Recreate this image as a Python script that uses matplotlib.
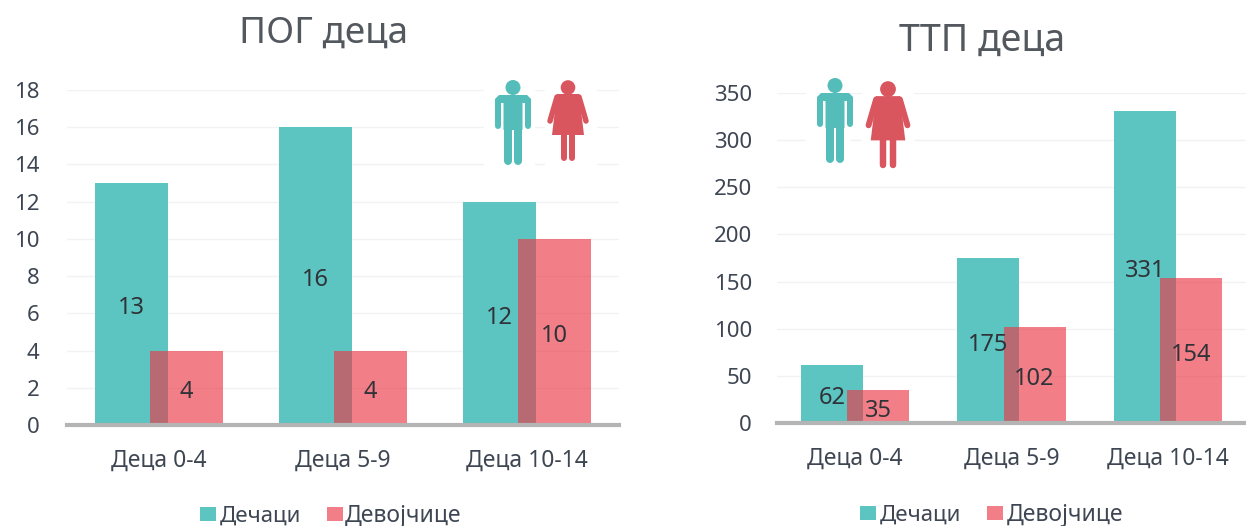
import matplotlib
matplotlib.use('Agg')
import matplotlib.pyplot as plt
from matplotlib.patches import Circle, Polygon, Rectangle

plt.rcParams['font.family'] = ['Noto Sans', 'DejaVu Sans']

W, H = 1246, 526

categories = ['Деца 0-4', 'Деца 5-9', 'Деца 10-14']
pog_boys = [13, 16, 12]
pog_girls = [4, 4, 10]
ttp_boys = [62, 175, 331]
ttp_girls = [35, 102, 154]
pog_ticks = [0, 2, 4, 6, 8, 10, 12, 14, 16, 18]
ttp_ticks = [0, 50, 100, 150, 200, 250, 300, 350]

BOY = '#5cc4c1'
GIRL = (235 / 255, 56 / 255, 70 / 255, 0.644)
GIRL_ICON = '#d9565f'
BOY_ICON = '#55bdb9'
TXT = '#3d4652'


# ejes en pixeles de la imagen
def make_axes(left, right, top, bottom):
    return plt.gcf().add_axes([left / W, 1 - bottom / H, (right - left) / W, (bottom - top) / H])


def bar_label(ax, x, val):
    ax.annotate(str(val), (x, val / 2), xytext=(0, -3), textcoords='offset points', ha='center', va='center',
                fontsize=17, color='#2f3338', zorder=5)


def draw_chart(ax, boys, girls, ticks, title, title_x, title_y, title_size, ymax, pad):
    x = range(len(categories))
    width = 0.397
    off = 0.148
    ax.bar([i - off for i in x], boys, width, color=BOY, zorder=2)
    ax.bar([i + off for i in x], girls, width, color=GIRL, zorder=3)
    for i in x:
        bar_label(ax, i - off, boys[i])
        bar_label(ax, i + off, girls[i])
    ax.set_xlim(-0.5, 2.5)
    ax.set_ylim(0, ymax)
    ax.set_yticks(ticks)
    ax.set_xticks(list(x))
    ax.set_xticklabels(categories, fontsize=16.5, color=TXT)
    ax.tick_params(axis='y', length=0, labelsize=16, labelcolor=TXT, pad=pad)
    ax.tick_params(axis='x', length=0, pad=17)
    ax.grid(axis='y', color='#f2f2f2', linewidth=1, zorder=0)
    ax.set_axisbelow(True)
    for s in ['top', 'right', 'left']:
        ax.spines[s].set_visible(False)
    ax.spines['bottom'].set_color('#b4b4b4')
    ax.spines['bottom'].set_linewidth(3)
    ax.spines['bottom'].set_zorder(6)
    plt.gcf().text(title_x / W, 1 - title_y / H, title, ha='center', va='center', fontsize=title_size, color='#53585e')


def stroke(a, xs, ys, px, color):
    a.plot(xs, ys, color=color, lw=px * 0.72, solid_capstyle='round')


# icono hombre, coordenadas en pixeles
def man(a, cx, top, s, color):
    a.add_patch(Circle((cx, top + 7.5 * s), 7.5 * s, color=color, lw=0))
    a.add_patch(Polygon([(cx - 14 * s, top + 15 * s), (cx + 14 * s, top + 15 * s), (cx + 18 * s, top + 19 * s),
                         (cx + 18 * s, top + 23 * s), (cx + 9.5 * s, top + 23 * s), (cx + 9.5 * s, top + 50 * s),
                         (cx - 9.5 * s, top + 50 * s), (cx - 9.5 * s, top + 23 * s), (cx - 18 * s, top + 23 * s),
                         (cx - 18 * s, top + 19 * s)], closed=True, color=color, lw=0))
    for sgn in [-1, 1]:
        stroke(a, [cx + sgn * 15 * s] * 2, [top + 21 * s, top + 46 * s], 6 * s, color)
        stroke(a, [cx + sgn * 5.4 * s] * 2, [top + 45 * s, top + 81 * s], 8 * s, color)


# icono mujer
def woman(a, cx, top, s, color):
    a.add_patch(Circle((cx, top + 7.5 * s), 7.3 * s, color=color, lw=0))
    a.add_patch(Polygon([(cx - 11 * s, top + 14 * s), (cx + 11 * s, top + 14 * s), (cx + 16 * s, top + 55 * s),
                         (cx - 16 * s, top + 55 * s)], closed=True, color=color, lw=0))
    for sgn in [-1, 1]:
        stroke(a, [cx + sgn * 11 * s, cx + sgn * 18 * s], [top + 17 * s, top + 41 * s], 5.5 * s, color)
        stroke(a, [cx + sgn * 4.4 * s] * 2, [top + 54 * s, top + 78 * s], 6 * s, color)


# leyenda a mano en pixeles
def legend(a, sq1, tx1, sq2, tx2, y):
    a.add_patch(Rectangle((sq1, y - 7), 16, 14, color=BOY, lw=0))
    a.text(tx1, y + 2, 'Дечаци', va='center', ha='left', fontsize=16, color=TXT)
    a.add_patch(Rectangle((sq2, y - 7), 16, 14, color='#f27f88', lw=0))
    a.text(tx2, y + 2, 'Девојчице', va='center', ha='left', fontsize=16.5, color=TXT)


fig = plt.figure(figsize=(W / 100, H / 100), dpi=100)

ax1 = make_axes(67, 619, 90, 425)
draw_chart(ax1, pog_boys, pog_girls, pog_ticks, 'ПОГ деца', 324, 34, 26.5, 18, 20)
ax2 = make_axes(777, 1246, 93, 423)
draw_chart(ax2, ttp_boys, ttp_girls, ttp_ticks, 'ТТП деца', 982, 41, 27, 350, 18)

over = fig.add_axes([0, 0, 1, 1], facecolor='none')
over.set_xlim(0, W)
over.set_ylim(H, 0)
over.axis('off')
# fondo blanco detras de los iconos
for bx, bw in [(484, 51), (545, 52), (806, 44), (862, 52)]:
    over.add_patch(Rectangle((bx, 75), bw, 95, color='white', lw=0))
man(over, 513, 80, 1.0, BOY_ICON)
woman(over, 568, 80, 1.0, GIRL_ICON)
man(over, 835, 78, 1.0, BOY_ICON)
woman(over, 888, 81, 1.08, GIRL_ICON)
legend(over, 200, 220, 327, 345, 514)
legend(over, 860, 880, 987, 1007, 513)

fig.savefig('out.png', dpi=100)
